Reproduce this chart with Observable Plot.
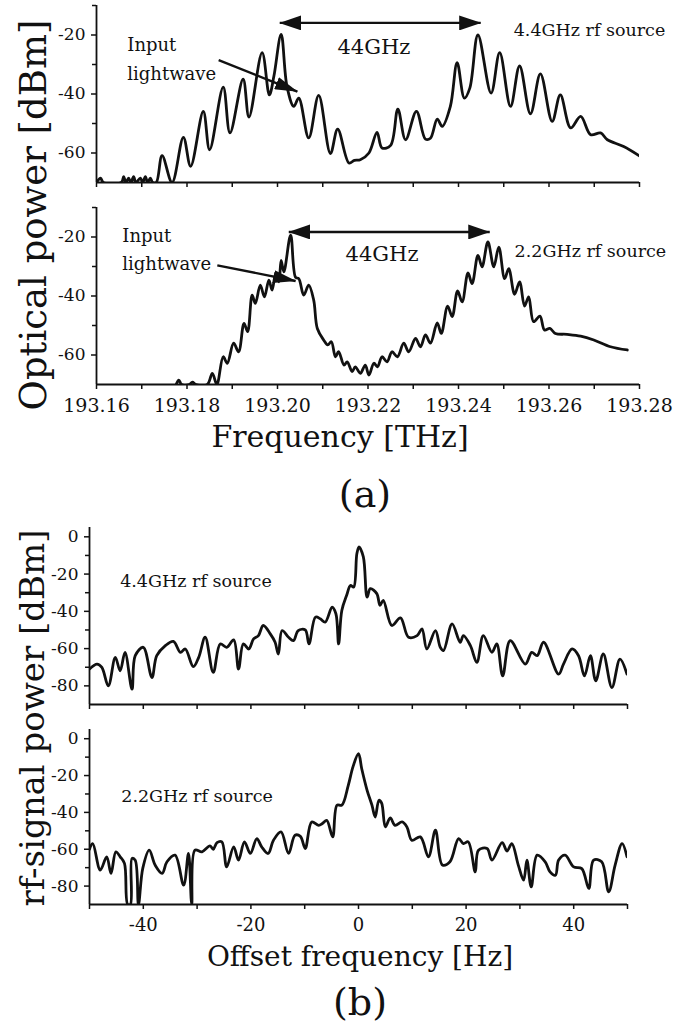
<!DOCTYPE html>
<html><head><meta charset="utf-8">
<script src="https://cdn.jsdelivr.net/npm/d3@7"></script>
<script src="https://cdn.jsdelivr.net/npm/@observablehq/plot@0.6"></script>
<style>
body{margin:0;background:#fff;}
#root{position:relative;width:688px;height:1032px;font-family:"DejaVu Serif","Liberation Serif",serif;color:#111;overflow:hidden;}
.p{position:absolute;left:0;}
.t{position:absolute;white-space:nowrap;transform:translate(-50%,-50%);line-height:1;}
.r{transform:translate(-50%,-50%) rotate(-90deg);}
</style></head><body><div id="root"></div>
<script>
// ---------- data ----------
// (a) upper: 4.4 GHz rf source, optical spectrum
const a1Freq = [193.1600,193.1609,193.1615,193.1655,193.1660,193.1665,193.1671,193.1676,193.1682,193.1687,193.1697,193.1702,193.1708,193.1713,193.1719,193.1724,193.1732,193.1745,193.1767,193.1792,193.1808,193.1836,193.1850,193.1880,193.1895,193.1924,193.1937,193.1966,193.1982,193.1992,193.2008,193.2021,193.2036,193.2047,193.2069,193.2091,193.2117,193.2133,193.2158,193.2170,193.2183,193.2202,193.2220,193.2231,193.2250,193.2266,193.2283,193.2307,193.2327,193.2338,193.2353,193.2364,193.2382,193.2397,193.2413,193.2425,193.2443,193.2472,193.2491,193.2515,193.2535,193.2559,193.2581,193.2607,193.2625,193.2648,193.2670,193.2692,193.2714,193.2729,193.2765,193.2801];
const a1Power = [-70,-68.5,-70,-70,-68,-70,-68.5,-70,-68,-70,-68.5,-70,-68,-70,-68.5,-70,-70,-60.9,-70,-54.7,-64.5,-45.9,-58.9,-37.7,-53.2,-35.0,-47.8,-26.0,-40.3,-34,-19.8,-37.5,-44.2,-41.4,-54.9,-40.5,-60.2,-51.9,-63.4,-62.5,-62.3,-60,-53.0,-58.3,-57.4,-45.1,-55.5,-45.9,-55.3,-55,-48.5,-51,-44.2,-29.4,-41.4,-38,-20,-39.7,-26,-44.2,-30.5,-46.7,-33.2,-49.3,-40.3,-51.5,-47.6,-53.8,-53.2,-55.5,-57.8,-61.1];
// (a) lower: 2.2 GHz rf source
const a2Freq = [193.1776,193.1782,193.1788,193.1805,193.1812,193.1820,193.1845,193.1856,193.1866,193.1880,193.1889,193.1903,193.1914,193.1926,193.1934,193.1944,193.1951,193.1962,193.1971,193.1981,193.1988,193.1996,193.2003,193.2008,193.2014,193.2029,193.2040,193.2047,193.2058,193.2069,193.2080,193.2088,193.2102,193.2111,193.2119,193.2128,193.2135,193.2147,193.2154,193.2165,193.2172,193.2183,193.2194,193.2202,193.2213,193.2221,193.2231,193.2242,193.2253,193.2265,193.2279,193.2290,193.2305,193.2316,193.2327,193.2338,193.2353,193.2362,193.2376,193.2386,193.2398,193.2408,193.2421,193.2430,193.2443,193.2452,193.2465,193.2478,193.2489,193.2502,193.2511,193.2524,193.2535,193.2546,193.2555,193.2566,193.2580,193.2590,193.2602,193.2614,193.2640,193.2670,193.2699,193.2736,193.2773];
const a2Power = [-70,-68.5,-70,-70,-69.2,-70,-70,-66.2,-70,-60.6,-62.8,-56,-58.9,-49.3,-52.1,-39.7,-42.5,-36.3,-40.3,-34.6,-38,-32.4,-35.2,-27.9,-31.8,-19.4,-33.7,-34.1,-39.7,-36.3,-41.4,-51,-54.9,-56.6,-55.5,-60.6,-58.9,-63.4,-62.3,-65.6,-64,-66.2,-63.4,-66.8,-62.8,-64,-60.6,-62.3,-58.9,-60.6,-56,-58.9,-54.4,-57.2,-53.2,-56,-49.1,-52.7,-43.4,-47,-38.3,-42,-32.2,-35.8,-26.2,-30.1,-21.7,-30.1,-23.4,-34.1,-30.7,-39.4,-35.2,-43.4,-40.3,-48.7,-46.8,-51.5,-51,-52.7,-53,-53.6,-54.9,-57.2,-58.3];
// (b) upper: 4.4 GHz rf source, rf-signal spectrum
const b1Offset = [-50,-48.6,-47.7,-46.5,-45.2,-44.3,-43.4,-42.1,-41.5,-40.0,-38.4,-37.5,-35.9,-34.4,-33.1,-32.2,-30.7,-29.7,-28.5,-27.0,-25.7,-24.5,-23.2,-22.3,-21.4,-20.4,-19.5,-18.6,-17.7,-16.4,-15.5,-14.9,-14.2,-13.0,-12.1,-11.2,-9.9,-9.2,-8.0,-7.1,-6.2,-4.9,-4.2,-3.7,-3.1,-2.2,-1.5,-0.9,-0.3,0.1,0.9,1.6,2.2,3.4,4.0,4.6,6.2,7.8,9.3,10.9,11.8,12.7,14.3,15.2,15.8,17.4,18.9,19.5,20.8,22.0,23.2,24.8,25.7,26.8,28.2,31.0,32.2,33.2,34.4,37.2,38.1,39.7,40.9,42.0,43.1,44.1,45.5,47.1,48.6,49.9];
const b1Power = [-71.0,-68.3,-70.1,-80.0,-64.7,-71.9,-62.0,-81.8,-63.8,-59.3,-75.5,-63.8,-58.4,-56.1,-62.0,-60.2,-69.7,-64.7,-53.9,-72.8,-57.5,-59.3,-55.3,-71.0,-57.5,-60.2,-54.8,-53.0,-47.6,-52.1,-56.6,-62.9,-50.3,-53.9,-55.7,-50.3,-50.0,-57.5,-43.1,-44.0,-45.8,-37.8,-41.3,-57.5,-39.5,-31.4,-26.1,-27,-9.0,-5.4,-10.8,-32.4,-27.8,-30.5,-36.8,-34.1,-47.6,-43.5,-53.9,-53.0,-49.4,-60.2,-50.3,-59.3,-61.1,-46.7,-56.6,-53.0,-58.4,-67.4,-53.0,-62.0,-57.5,-74.6,-55.7,-68.3,-62.0,-63.8,-56.6,-73.7,-68.3,-60.2,-63.8,-74.6,-63.8,-77.3,-62.9,-80.9,-65.6,-73.7];
// (b) lower: 2.2 GHz rf source
const b2Offset = [-50,-49.4,-48.0,-46.8,-46.0,-45.1,-44.3,-43.5,-42.9,-42.4,-42.1,-41.5,-40.9,-40.1,-38.9,-37.8,-36.5,-35.6,-34.1,-32.5,-31.6,-31.0,-30.4,-29.1,-27.6,-27.0,-26.3,-25.4,-24.5,-23.2,-22.3,-21.2,-20.1,-18.9,-18.0,-16.8,-15.8,-14.4,-13.0,-11.8,-10.8,-9.9,-8.7,-7.4,-6.7,-5.9,-4.8,-4.0,-3.1,-1.9,-1.0,0,0.6,1.6,2.5,3.1,3.8,4.3,5.0,5.9,6.8,8.1,9.0,9.9,11.5,13.0,14.3,15.6,17.0,18.6,19.5,20.4,21.7,22.3,23.9,24.8,26.7,27.6,28.5,29.7,30.7,31.3,32.1,33.2,34.7,35.6,36.6,37.2,38.4,40.0,41.5,42.8,43.7,45.2,46.5,47.7,49.0,49.9];
const b2Power = [-60,-57,-71.3,-64.1,-73.1,-61.4,-64.1,-67.7,-90,-90,-65,-66,-90,-70.4,-60.5,-68.6,-73.1,-66.8,-63.2,-79.5,-62.3,-90,-60.5,-61.4,-58.2,-60,-56.4,-56.0,-69.6,-58.7,-65.9,-56.0,-62.3,-54.2,-58.7,-62.3,-55.1,-50.6,-62.3,-52.4,-53,-59.6,-45.2,-47.0,-46,-44.3,-53.3,-36.1,-36.1,-25.3,-15,-8.1,-16.3,-28.0,-36.1,-42.5,-33.4,-35,-47.9,-43.0,-47.0,-45.2,-47.9,-55.1,-53.3,-64.1,-49.7,-68.6,-66.8,-54.2,-56.9,-56,-72.3,-60.5,-59.6,-65.9,-56.4,-61.0,-56.9,-68.6,-76.8,-65.9,-80.4,-63.2,-66.8,-72.3,-74.1,-65.9,-63.2,-69.6,-70.5,-81.3,-65.9,-66.8,-83.1,-68.6,-56.9,-64.1];

// ---------- ticks ----------
const aXMajor = [193.16, 193.18, 193.20, 193.22, 193.24, 193.26, 193.28];
const aXMinor = [193.17, 193.19, 193.21, 193.23, 193.25, 193.27];
const aYMajor = [-20, -40, -60];
const aYMinor = [-10, -30, -50];
const bXMajor = [-40, -20, 0, 20, 40];
const bXMinor = [-50, -30, -10, 10, 30, 50];
const bYMajor = [0, -20, -40, -60, -80];
const bYMinor = [-10, -30, -50, -70];

// ---------- annotations ----------
const a1Notes = {text: ["Input", "lightwave"], x: [193.1668, 193.1668], y: [-23.4, -33.2]};
const a2Notes = {text: ["Input", "lightwave"], x: [193.1657, 193.1657], y: [-19.8, -29.2]};
const a1Pointer = {x1: 193.1870, y1: -28.5, x2: 193.2044, y2: -39.2};
const a2Pointer = {x1: 193.1867, y1: -29.6, x2: 193.2040, y2: -34.9};
const a1Span = {x1: 193.2005, y1: -15.9, x2: 193.2449, y2: -15.9};
const a2Span = {x1: 193.2025, y1: -18.3, x2: 193.2469, y2: -18.3};
const spanLabel = "44GHz";
const a1SpanPos = {x: 193.2213, y: -24.2};
const a2SpanPos = {x: 193.2231, y: -25.9};
const src44 = "4.4GHz rf source", src22 = "2.2GHz rf source";
const a1SrcPos = {x: 193.2522, y: -18.3};
const a2SrcPos = {x: 193.2524, y: -25.0};
const b1SrcPos = {x: -44.3, y: -23.9};
const b2SrcPos = {x: -44.1, y: -31.3};

const FONT = '"DejaVu Serif","Liberation Serif",serif';
const INK = "#111";

function panel(o) {
  return Plot.plot({
    width: 688, height: o.height,
    marginLeft: o.ml, marginRight: o.mr, marginTop: o.mt, marginBottom: o.mb,
    style: {fontFamily: FONT, fontSize: "18px", color: INK, background: "transparent", overflow: "visible"},
    x: {domain: o.xDomain},
    y: {domain: o.yDomain},
    marks: [
      Plot.axisX({ticks: o.xMajor, tickSize: 5, tickPadding: o.xPad, strokeWidth: 1.5, label: null,
        tickFormat: o.xFmt ? o.xFmt : () => "", fontSize: o.xFont}),
      Plot.axisX({ticks: o.xMinor, tickSize: 5, strokeWidth: 1.5, label: null, tickFormat: () => ""}),
      Plot.axisY({ticks: o.yMajor, tickSize: 5, tickPadding: 6, strokeWidth: 1.5, label: null,
        tickFormat: d => String(d), fontSize: 17}),
      Plot.axisY({ticks: o.yMinor, tickSize: 4, strokeWidth: 1.5, label: null, tickFormat: () => ""}),
      Plot.ruleX([o.xDomain[0]], {strokeWidth: 1.8}),
      Plot.ruleY([o.yDomain[0]], {strokeWidth: 1.8}),
      Plot.line(o.y, {x: o.x, y: o.y, curve: "catmull-rom", strokeWidth: 2.8, clip: true, strokeLinejoin: "round"}),
      ...(o.extra || [])
    ]
  });
}

// replace Plot's chevron markers by filled triangular heads
let hid = 0;
function heads(svg) {
  const s = d3.select(svg);
  const defs = s.append("defs");
  const mk = (len, wid) => {
    const id = "head" + (hid++);
    defs.append("marker").attr("id", id).attr("viewBox", `0 0 ${len} ${wid}`)
      .attr("refX", len - 0.5).attr("refY", wid / 2)
      .attr("markerWidth", len).attr("markerHeight", wid)
      .attr("markerUnits", "userSpaceOnUse").attr("orient", "auto-start-reverse")
      .append("path").attr("d", `M0,0L${len},${wid / 2}L0,${wid}Z`).attr("fill", INK);
    return `url(#${id})`;
  };
  const ptr = mk(23, 13), span = mk(22, 15);
  s.selectAll("[marker-end]").each(function() {
    const el = d3.select(this);
    if (el.attr("marker-start")) el.attr("marker-start", span).attr("marker-end", span);
    else el.attr("marker-end", ptr);
  });
}

const link = (d, both) => Plot.link([d], {x1: "x1", y1: "y1", x2: "x2", y2: "y2", strokeWidth: 2.4,
  markerEnd: "arrow", markerStart: both ? "arrow" : undefined});
const txt = (s, pos, size, anchor) => Plot.text([s], {x: [pos.x], y: [pos.y], text: d => d, fontSize: size, textAnchor: anchor, lineAnchor: "middle"});
const notes = (n) => Plot.text(n.text, {x: n.x, y: n.y, text: d => d, fontSize: 18, textAnchor: "start", lineAnchor: "middle"});

const root = document.getElementById("root");
function place(svg, top) { svg.classList.add("p"); svg.style.top = top + "px"; root.appendChild(svg); }

const aBase = {xDomain: [193.16, 193.28], yDomain: [-70, -10], ml: 96, mr: 49, xMajor: aXMajor, xMinor: aXMinor, yMajor: aYMajor, yMinor: aYMinor, xPad: 9, xFont: 19};
const bBase = {xDomain: [-50, 50], yDomain: [-90, 5], ml: 89, mr: 61, xMajor: bXMajor, xMinor: bXMinor, yMajor: bYMajor, yMinor: bYMinor, xPad: 9, xFont: 18};

const s1 = panel({...aBase, height: 200, mt: 5, mb: 18, x: a1Freq, y: a1Power, extra: [
  notes(a1Notes), link(a1Pointer, false), link(a1Span, true),
  txt(spanLabel, a1SpanPos, 21, "middle"), txt(src44, a1SrcPos, 17.5, "start")]});
heads(s1); place(s1, 0);

const s2 = panel({...aBase, height: 240, mt: 7, mb: 56, x: a2Freq, y: a2Power, xFmt: d => d.toFixed(2), extra: [
  notes(a2Notes), link(a2Pointer, false), link(a2Span, true),
  txt(spanLabel, a2SpanPos, 21, "middle"), txt(src22, a2SrcPos, 17.5, "start")]});
heads(s2); place(s2, 200);

const s3 = panel({...bBase, height: 200, mt: 7, mb: 16, x: b1Offset, y: b1Power, extra: [txt(src44, b1SrcPos, 17.5, "start")]});
place(s3, 520);
const s4 = panel({...bBase, height: 230, mt: 9, mb: 46, x: b2Offset, y: b2Power, xFmt: d => String(d), extra: [txt(src22, b2SrcPos, 17.5, "start")]});
place(s4, 720);

function label(text, x, y, size, rot) {
  const d = document.createElement("div");
  d.className = "t" + (rot ? " r" : "");
  d.textContent = text; d.style.left = x + "px"; d.style.top = y + "px"; d.style.fontSize = size + "px";
  root.appendChild(d);
}
label("Frequency [THz]", 340, 437, 30);
label("(a)", 365, 494, 38);
label("Offset frequency [Hz]", 360, 957, 28);
label("(b)", 360, 1002, 38);
label("Optical power [dBm]", 33, 215, 37, true);
label("rf-signal power [dBm]", 32, 718, 34, true);
</script></body></html>
